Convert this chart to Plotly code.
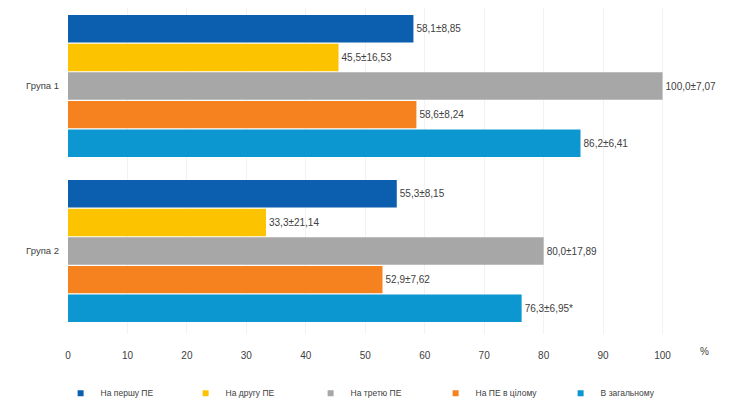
import plotly.graph_objects as go

groups = ["Група 1", "Група 2"]
series_names = ["На першу ПЕ", "На другу ПЕ", "На третю ПЕ", "На ПЕ в цілому", "В загальному"]
values = [
    [58.1, 55.3],
    [45.5, 33.3],
    [100.0, 80.0],
    [58.6, 52.9],
    [86.2, 76.3],
]
labels = [
    ["58,1±8,85", "55,3±8,15"],
    ["45,5±16,53", "33,3±21,14"],
    ["100,0±7,07", "80,0±17,89"],
    ["58,6±8,24", "52,9±7,62"],
    ["86,2±6,41", "76,3±6,95*"],
]
colors = ["#0B5FAE", "#FCC400", "#A7A7A7", "#F5821F", "#0C97D0"]
tick_vals = list(range(0, 101, 10))

fig = go.Figure()
for name, vals, txt, col in zip(series_names, values, labels, colors):
    fig.add_trace(go.Bar(
        name=name, y=groups, x=vals, orientation="h",
        marker=dict(color=col, line=dict(width=0)),
        text=txt, textposition="outside", cliponaxis=False,
        textfont=dict(size=10, color="#404040"),
        constraintext="none", showlegend=False,
    ))
# legend-only entries with small square symbols
for name, col in zip(series_names, colors):
    fig.add_trace(go.Scatter(
        name=name, x=[None], y=[None], mode="markers",
        marker=dict(symbol="square", size=6, color=col), showlegend=True,
    ))

fig.update_layout(
    width=723, height=393,
    margin=dict(l=60, r=8.5, t=0, b=67, autoexpand=False),
    barmode="group", bargap=0.133, bargroupgap=0.04,
    plot_bgcolor="white", paper_bgcolor="white",
    font=dict(family="Liberation Sans, Arial, sans-serif", size=10, color="#404040"),
    showlegend=True,
    legend=dict(orientation="h", xref="container", yref="container",
                x=0.505, xanchor="center", y=0.02, yanchor="middle",
                entrywidth=80, entrywidthmode="pixels", tracegroupgap=0,
                font=dict(size=8.5, color="#404040"), itemwidth=30),
    xaxis=dict(range=[0, 110], tickvals=tick_vals, showgrid=True, gridcolor="#F2F2F2",
               zeroline=False, showline=False, ticks="", ticklabelstandoff=14,
               automargin=False, tickfont=dict(size=10, color="#404040")),
    yaxis=dict(range=[1.503, -0.473], showgrid=False, showline=False, ticks="",
               ticklabelstandoff=8, automargin=False,
               tickfont=dict(size=9.5, color="#404040")),
)
fig.add_annotation(text="%", xref="x", yref="paper", x=107, y=0, yshift=-25,
                   showarrow=False, font=dict(size=10, color="#404040"))
fig.write_html("out.html")
